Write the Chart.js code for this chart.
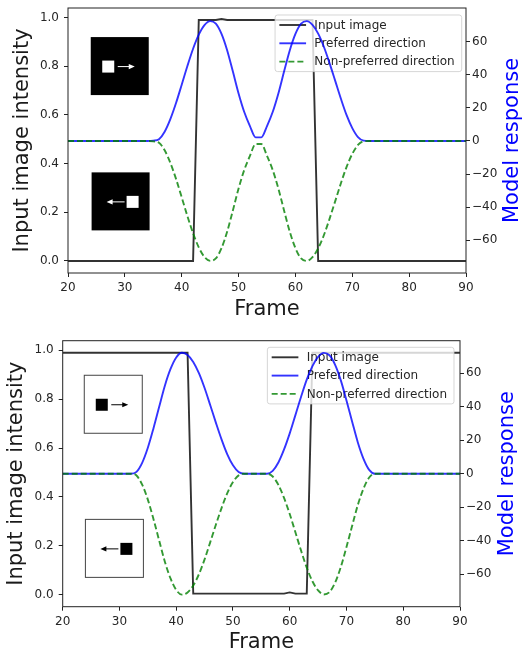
<!DOCTYPE html>
<html>
<head>
<meta charset="utf-8">
<script src="https://cdn.jsdelivr.net/npm/chart.js@4.4.0/dist/chart.umd.min.js"></script>
<style>
  html, body { margin: 0; padding: 0; background: #fff; }
  #wrap { position: relative; width: 525px; height: 655px; }
  canvas { position: absolute; left: 0; }
  #topPanel { top: 0; }
  #bottomPanel { top: 330px; }
</style>
</head>
<body>
<div id="wrap">
  <canvas id="topPanel" width="525" height="325"></canvas>
  <canvas id="bottomPanel" width="525" height="325"></canvas>
</div>
<script>
const frames = [20, 21, 22, 23, 24, 25, 26, 27, 28, 29,
  30, 31, 32, 33, 34, 35, 36, 37, 38, 39,
  40, 41, 42, 43, 44, 45, 46, 47, 48, 49,
  50, 51, 52, 53, 54, 55, 56, 57, 58, 59,
  60, 61, 62, 63, 64, 65, 66, 67, 68, 69,
  70, 71, 72, 73, 74, 75, 76, 77, 78, 79,
  80, 81, 82, 83, 84, 85, 86, 87, 88, 89, 90];
const frameTicks = [20, 30, 40, 50, 60, 70, 80, 90];
const intensityTicks = [0, 0.2, 0.4, 0.6, 0.8, 1.0];
const responseTicks = [-60, -40, -20, 0, 20, 40, 60];
const seriesNames = ['Input image', 'Preferred direction', 'Non-preferred direction'];

// top panel: bright square on a dark background
const topInput = [0, 0, 0, 0, 0, 0, 0, 0, 0, 0,
  0, 0, 0, 0, 0, 0, 0, 0, 0, 0,
  0, 0, 0, 0.99, 0.99, 0.99, 0.99, 0.994, 0.99, 0.99,
  0.99, 0.99, 0.99, 0.99, 0.99, 0.99, 0.99, 0.99, 0.99, 0.99,
  0.99, 0.99, 0.99, 0.99, 0, 0, 0, 0, 0, 0,
  0, 0, 0, 0, 0, 0, 0, 0, 0, 0,
  0, 0, 0, 0, 0, 0, 0, 0, 0, 0, 0];
const topPreferred = [0, 0, 0, 0, 0, 0, 0, 0, 0, 0,
  0, 0, 0, 0, 0, 0.2, 1.1, 5.6, 13.2, 22.9,
  34.0, 45.3, 55.7, 64.2, 70.0, 72.4, 70.9, 64.7, 54.7, 41.9,
  28.7, 17.5, 9.0, 2.2, 2.2, 9.0, 17.5, 28.7, 41.9, 54.7,
  64.7, 70.9, 72.4, 70.1, 64.8, 56.9, 47.0, 36.3, 25.5, 15.6,
  7.8, 2.4, 0.2, 0, 0, 0, 0, 0, 0, 0,
  0, 0, 0, 0, 0, 0, 0, 0, 0, 0, 0];
const topNonPreferred = [0, 0, 0, 0, 0, 0, 0, 0, 0, 0,
  0, 0, 0, 0, 0, -0.2, -1.1, -5.6, -13.2, -22.9,
  -34.0, -45.3, -55.7, -64.2, -70.0, -72.4, -70.9, -64.7, -54.7, -41.9,
  -28.7, -17.5, -9.0, -1.8, -1.8, -9.0, -17.5, -28.7, -41.9, -54.7,
  -64.7, -70.9, -72.4, -70.1, -64.8, -56.9, -47.0, -36.3, -25.5, -15.6,
  -7.8, -2.4, -0.2, 0, 0, 0, 0, 0, 0, 0,
  0, 0, 0, 0, 0, 0, 0, 0, 0, 0, 0];

// bottom panel: dark square on a bright background
const bottomInput = [0.99, 0.99, 0.99, 0.99, 0.99, 0.99, 0.99, 0.99, 0.99, 0.99,
  0.99, 0.99, 0.99, 0.99, 0.99, 0.99, 0.99, 0.99, 0.99, 0.99,
  0.99, 0.99, 0.99, 0.004, 0.004, 0.004, 0.004, 0.004, 0.004, 0.004,
  0.004, 0.004, 0.004, 0.004, 0.004, 0.004, 0.004, 0.004, 0.004, 0.004,
  0.009, 0.004, 0.004, 0.004, 0.99, 0.99, 0.99, 0.99, 0.99, 0.99,
  0.99, 0.99, 0.99, 0.99, 0.99, 0.99, 0.99, 0.99, 0.99, 0.99,
  0.99, 0.99, 0.99, 0.99, 0.99, 0.99, 0.99, 0.99, 0.99, 0.99, 0.99];
const bottomPreferred = [0, 0, 0, 0, 0, 0, 0, 0, 0, 0,
  0, 0, 0, 1.1, 6.5, 15.5, 27.2, 40.0, 52.6, 62.6,
  69.5, 72.3, 71.0, 66.8, 60.1, 51.2, 40.9, 30.4, 20.4, 11.6,
  5.0, 1.0, 0, 0, 0, 0, 0, 1.7, 6.7, 14.5,
  24.1, 35.0, 46.0, 56.2, 64.3, 69.8, 72.2, 70.8, 65.1, 55.8,
  43.8, 31.1, 18.7, 8.9, 2.3, 0, 0, 0, 0, 0,
  0, 0, 0, 0, 0, 0, 0, 0, 0, 0, 0];
const bottomNonPreferred = [0, 0, 0, 0, 0, 0, 0, 0, 0, 0,
  0, 0, 0, -1.1, -6.5, -15.5, -27.2, -40.0, -52.6, -62.6,
  -69.5, -72.3, -71.0, -66.8, -60.1, -51.2, -40.9, -30.4, -20.4, -11.6,
  -5.0, -1.0, 0, 0, 0, 0, 0, -1.7, -6.7, -14.5,
  -24.1, -35.0, -46.0, -56.2, -64.3, -69.8, -72.2, -70.8, -65.1, -55.8,
  -43.8, -31.1, -18.7, -8.9, -2.3, 0, 0, 0, 0, 0,
  0, 0, 0, 0, 0, 0, 0, 0, 0, 0, 0];

const FONT = '"DejaVu Sans", "Liberation Sans", sans-serif';
const TEXT = '#262626';

function roundedBox(ctx, x, y, w, h, r) {
  ctx.beginPath();
  ctx.moveTo(x + r, y);
  ctx.lineTo(x + w - r, y);
  ctx.arcTo(x + w, y, x + w, y + r, r);
  ctx.lineTo(x + w, y + h - r);
  ctx.arcTo(x + w, y + h, x + w - r, y + h, r);
  ctx.lineTo(x + r, y + h);
  ctx.arcTo(x, y + h, x, y + h - r, r);
  ctx.lineTo(x, y + r);
  ctx.arcTo(x, y, x + r, y, r);
  ctx.closePath();
}

function drawArrow(ctx, x1, x2, y, color) {
  const dir = Math.sign(x2 - x1);
  ctx.strokeStyle = color;
  ctx.fillStyle = color;
  ctx.lineWidth = 1;
  ctx.beginPath();
  ctx.moveTo(x1, y);
  ctx.lineTo(x2 - dir * 5, y);
  ctx.stroke();
  ctx.beginPath();
  ctx.moveTo(x2, y);
  ctx.lineTo(x2 - dir * 6, y - 2.6);
  ctx.lineTo(x2 - dir * 6, y + 2.6);
  ctx.closePath();
  ctx.fill();
}

// small stimulus pictures, legend box, frame and right-hand title
const panelDecor = {
  id: 'panelDecor',
  beforeDatasetsDraw(chart, args, opts) {
    const ctx = chart.ctx;
    const sx = chart.scales.x, sy = chart.scales.y;
    const size = 58;
    ctx.save();
    opts.insets.forEach(ins => {
      const px = sx.getPixelForValue(ins.frame);
      const py = sy.getPixelForValue(ins.level);
      const bg = opts.dark ? '#000' : '#fff';
      const fg = opts.dark ? '#fff' : '#000';
      ctx.fillStyle = bg;
      ctx.fillRect(px, py, size, size);
      if (!opts.dark) {
        ctx.strokeStyle = '#444';
        ctx.lineWidth = 1;
        ctx.strokeRect(px, py, size, size);
      }
      ctx.fillStyle = fg;
      if (ins.dir > 0) {
        ctx.fillRect(px + 11.5, py + 23.5, 12, 12);
        drawArrow(ctx, px + 27, px + 44, py + 29.5, fg);
      } else {
        ctx.fillRect(px + 35, py + 23.5, 12, 12);
        drawArrow(ctx, px + 33, px + 15, py + 29.5, fg);
      }
    });
    ctx.restore();
  },
  afterDatasetDraw(chart, args, opts) {
    if (args.index !== 0) return;
    const ctx = chart.ctx, area = chart.chartArea;
    const sets = chart.data.datasets;
    ctx.save();
    ctx.font = '12px ' + FONT;
    const textW = Math.max(...sets.map(d => ctx.measureText(d.label).width));
    const padL = 4.3, handle = 26.7, gap = 8.3, padR = 7, rowH = 18.3, padT = 10;
    const w = padL + handle + gap + textW + padR;
    const h = padT * 2 + rowH * (sets.length - 1);
    const x0 = area.right - opts.legendRight - w;
    const y0 = area.top + opts.legendTop;
    roundedBox(ctx, x0, y0, w, h, 2.5);
    ctx.fillStyle = 'rgba(255,255,255,0.8)';
    ctx.fill();
    ctx.strokeStyle = 'rgba(204,204,204,0.8)';
    ctx.lineWidth = 1;
    ctx.stroke();
    sets.forEach((d, i) => {
      const y = y0 + padT + i * rowH;
      ctx.strokeStyle = d.borderColor;
      ctx.lineWidth = d.borderWidth;
      ctx.setLineDash(d.borderDash || []);
      ctx.beginPath();
      ctx.moveTo(x0 + padL, y);
      ctx.lineTo(x0 + padL + handle, y);
      ctx.stroke();
      ctx.setLineDash([]);
      ctx.fillStyle = TEXT;
      ctx.textBaseline = 'middle';
      ctx.textAlign = 'left';
      ctx.fillText(d.label, x0 + padL + handle + gap, y + 0.5);
    });
    ctx.restore();
  },
  afterDraw(chart, args, opts) {
    const ctx = chart.ctx, a = chart.chartArea;
    ctx.save();
    ctx.strokeStyle = '#222';
    ctx.lineWidth = 1;
    ctx.strokeRect(a.left, a.top, a.right - a.left, a.bottom - a.top);
    ctx.translate(a.right + opts.rightTitleOffset, (a.top + a.bottom) / 2);
    ctx.rotate(-Math.PI / 2);
    ctx.font = '21px ' + FONT;
    ctx.fillStyle = '#0000ff';
    ctx.textAlign = 'center';
    ctx.textBaseline = 'middle';
    ctx.fillText('Model response', 0, 0);
    ctx.restore();
  }
};

function fixTicks(list) {
  return s => { s.ticks = list.map(v => ({ value: v })); };
}

function makePanel(id, input, preferred, nonPreferred, geo) {
  const pts = arr => frames.map((f, i) => ({ x: f, y: arr[i] }));
  const tickFont = { family: FONT, size: 12 };
  const titleFont = { family: FONT, size: 21 };
  const grid = { drawOnChartArea: false, drawTicks: true, tickLength: 4, color: '#222', lineWidth: 1 };
  return new Chart(document.getElementById(id), {
    type: 'line',
    data: {
      datasets: [
        { label: seriesNames[0], data: pts(input), yAxisID: 'y', borderColor: 'rgba(0,0,0,0.8)', borderWidth: 1.9, order: 3 },
        { label: seriesNames[1], data: pts(preferred), yAxisID: 'y1', borderColor: 'rgba(0,0,255,0.8)', borderWidth: 1.9,
          cubicInterpolationMode: 'monotone', order: 2 },
        { label: seriesNames[2], data: pts(nonPreferred), yAxisID: 'y1', borderColor: 'rgba(0,128,0,0.8)', borderWidth: 1.9,
          borderDash: [6, 3], cubicInterpolationMode: 'monotone', order: 1 }
      ]
    },
    options: {
      responsive: false,
      animation: false,
      events: [],
      elements: { point: { radius: 0 }, line: { tension: 0, fill: false } },
      layout: { padding: { top: geo.top, left: 0, right: 0, bottom: 0 } },
      plugins: {
        legend: { display: false },
        tooltip: { enabled: false },
        panelDecor: geo
      },
      scales: {
        x: {
          type: 'linear', min: 20, max: 90,
          afterBuildTicks: fixTicks(frameTicks),
          afterFit: s => { s.height = geo.xHeight; s.paddingLeft = 0; s.paddingRight = 0; },
          grid: grid, border: { display: false },
          ticks: { font: tickFont, color: TEXT, padding: 4, maxRotation: 0, autoSkip: false },
          title: { display: true, text: 'Frame', font: titleFont, color: '#1a1a1a', padding: { top: 0, bottom: geo.xTitlePad } }
        },
        y: {
          type: 'linear', position: 'left', min: -0.0495, max: 1.0395,
          afterBuildTicks: fixTicks(intensityTicks),
          afterFit: s => { s.width = geo.left; s.paddingTop = 0; s.paddingBottom = 0; },
          grid: grid, border: { display: false },
          ticks: { font: tickFont, color: TEXT, padding: 5, callback: v => v.toFixed(1) },
          title: { display: true, text: 'Input image intensity', font: titleFont, color: '#1a1a1a', padding: { top: geo.leftTitlePad, bottom: 0 } }
        },
        y1: {
          type: 'linear', position: 'right', min: geo.responseMin, max: geo.responseMax,
          afterBuildTicks: fixTicks(responseTicks),
          afterFit: s => { s.width = geo.rightW; s.paddingTop = 0; s.paddingBottom = 0; },
          grid: grid, border: { display: false },
          ticks: { font: tickFont, color: TEXT, padding: 2, callback: v => (v < 0 ? '\u2212' + Math.abs(v) : String(v)) }
        }
      }
    },
    plugins: [panelDecor]
  });
}

makePanel('topPanel', topInput, topPreferred, topNonPreferred, {
  top: 8, left: 68, rightW: 59, xHeight: 52,
  leftTitlePad: 10, xTitlePad: 2.4, rightTitleOffset: 47,
  responseMin: -79.7, responseMax: 80.3,
  legendRight: 4.3, legendTop: 7,
  dark: true,
  insets: [{ frame: 24.0, level: 0.92, dir: 1 }, { frame: 24.15, level: 0.364, dir: -1 }]
});

makePanel('bottomPanel', bottomInput, bottomPreferred, bottomNonPreferred, {
  top: 10.7, left: 62.7, rightW: 65, xHeight: 48.3,
  leftTitlePad: 4.1, xTitlePad: 0, rightTitleOffset: 47.5,
  responseMin: -79.5, responseMax: 79.5,
  legendRight: 6, legendTop: 6.6,
  dark: false,
  insets: [{ frame: 23.8, level: 0.898, dir: 1 }, { frame: 24.0, level: 0.308, dir: -1 }]
});
</script>
</body>
</html>
